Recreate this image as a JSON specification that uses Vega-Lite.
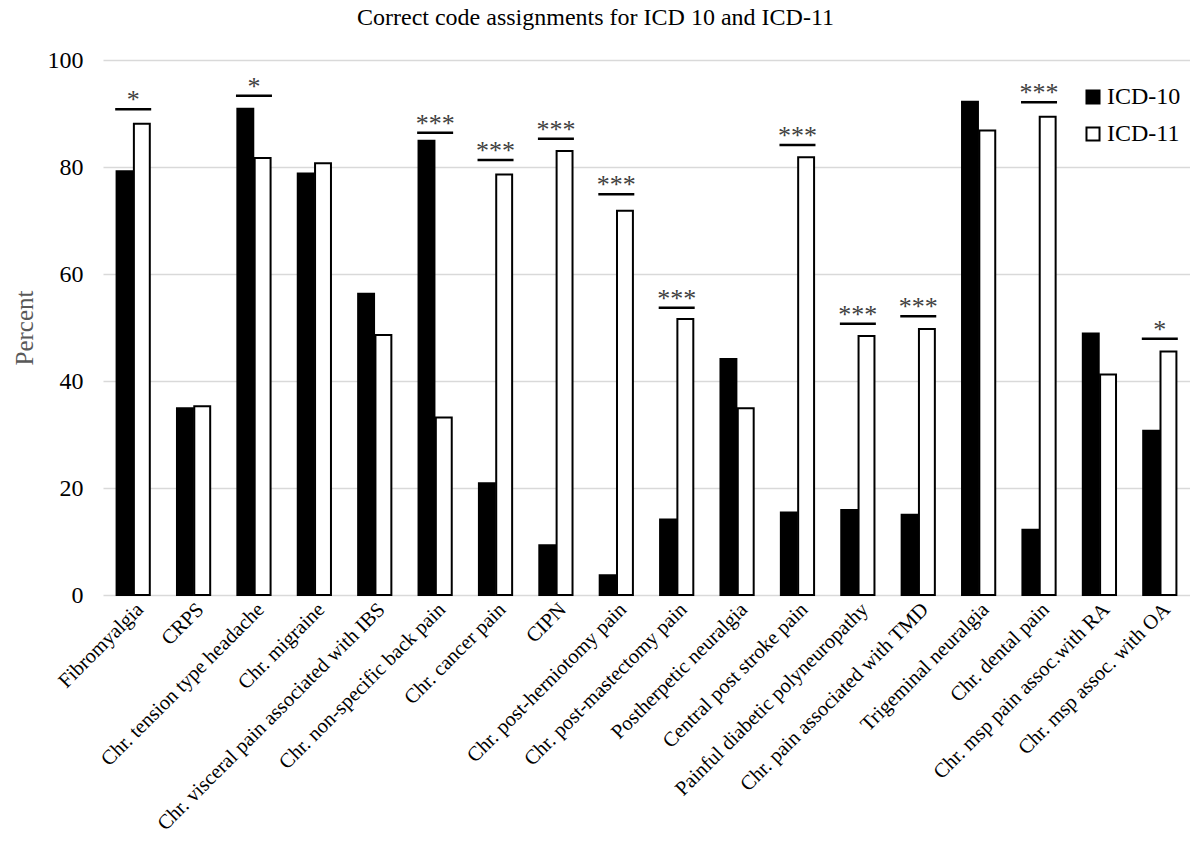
{
  "$schema": "https://vega.github.io/schema/vega-lite/v6.json",
  "autosize": "none",
  "width": 1087,
  "height": 535,
  "padding": {"left": 103, "top": 60, "right": 0, "bottom": 246},
  "background": "white",
  "title": {"text": "Correct code assignments for ICD 10 and ICD-11", "font": "Liberation Serif", "fontSize": 24, "fontWeight": "normal", "color": "#000000", "anchor": "middle", "dx": -51, "offset": 18},
  "config": {"view": {"stroke": null}, "font": "Liberation Serif"},
  "datasets": {
    "bars": [
      {"category": "Fibromyalgia", "series": "ICD-10", "value": 79.2},
      {"category": "Fibromyalgia", "series": "ICD-11", "value": 88.1},
      {"category": "CRPS", "series": "ICD-10", "value": 34.9},
      {"category": "CRPS", "series": "ICD-11", "value": 35.3},
      {"category": "Chr. tension type headache", "series": "ICD-10", "value": 90.9},
      {"category": "Chr. tension type headache", "series": "ICD-11", "value": 81.7},
      {"category": "Chr. migraine", "series": "ICD-10", "value": 78.8},
      {"category": "Chr. migraine", "series": "ICD-11", "value": 80.7},
      {"category": "Chr. visceral pain associated with IBS", "series": "ICD-10", "value": 56.3},
      {"category": "Chr. visceral pain associated with IBS", "series": "ICD-11", "value": 48.6},
      {"category": "Chr. non-specific back pain", "series": "ICD-10", "value": 84.9},
      {"category": "Chr. non-specific back pain", "series": "ICD-11", "value": 33.2},
      {"category": "Chr. cancer pain", "series": "ICD-10", "value": 20.9},
      {"category": "Chr. cancer pain", "series": "ICD-11", "value": 78.6},
      {"category": "CIPN", "series": "ICD-10", "value": 9.3},
      {"category": "CIPN", "series": "ICD-11", "value": 83.0},
      {"category": "Chr. post-herniotomy pain", "series": "ICD-10", "value": 3.7},
      {"category": "Chr. post-herniotomy pain", "series": "ICD-11", "value": 71.8},
      {"category": "Chr. post-mastectomy pain", "series": "ICD-10", "value": 14.1},
      {"category": "Chr. post-mastectomy pain", "series": "ICD-11", "value": 51.6},
      {"category": "Postherpetic neuralgia", "series": "ICD-10", "value": 44.1},
      {"category": "Postherpetic neuralgia", "series": "ICD-11", "value": 34.9},
      {"category": "Central post stroke pain", "series": "ICD-10", "value": 15.4},
      {"category": "Central post stroke pain", "series": "ICD-11", "value": 81.8},
      {"category": "Painful diabetic polyneuropathy", "series": "ICD-10", "value": 15.9},
      {"category": "Painful diabetic polyneuropathy", "series": "ICD-11", "value": 48.4},
      {"category": "Chr. pain associated with TMD", "series": "ICD-10", "value": 15.0},
      {"category": "Chr. pain associated with TMD", "series": "ICD-11", "value": 49.7},
      {"category": "Trigeminal neuralgia", "series": "ICD-10", "value": 92.2},
      {"category": "Trigeminal neuralgia", "series": "ICD-11", "value": 86.8},
      {"category": "Chr. dental pain", "series": "ICD-10", "value": 12.2},
      {"category": "Chr. dental pain", "series": "ICD-11", "value": 89.4},
      {"category": "Chr. msp pain assoc.with RA", "series": "ICD-10", "value": 48.9},
      {"category": "Chr. msp pain assoc.with RA", "series": "ICD-11", "value": 41.2},
      {"category": "Chr. msp assoc. with OA", "series": "ICD-10", "value": 30.7},
      {"category": "Chr. msp assoc. with OA", "series": "ICD-11", "value": 45.5}
    ],
    "sig": [
      {"category": "Fibromyalgia", "level": 90.8, "stars": "*"},
      {"category": "Chr. tension type headache", "level": 93.3, "stars": "*"},
      {"category": "Chr. non-specific back pain", "level": 86.4, "stars": "***"},
      {"category": "Chr. cancer pain", "level": 81.3, "stars": "***"},
      {"category": "CIPN", "level": 85.3, "stars": "***"},
      {"category": "Chr. post-herniotomy pain", "level": 74.9, "stars": "***"},
      {"category": "Chr. post-mastectomy pain", "level": 53.7, "stars": "***"},
      {"category": "Central post stroke pain", "level": 84.1, "stars": "***"},
      {"category": "Painful diabetic polyneuropathy", "level": 50.7, "stars": "***"},
      {"category": "Chr. pain associated with TMD", "level": 52.1, "stars": "***"},
      {"category": "Chr. dental pain", "level": 92.1, "stars": "***"},
      {"category": "Chr. msp assoc. with OA", "level": 47.9, "stars": "*"}
    ]
  },
  "encoding": {
    "x": {
      "field": "category", "type": "nominal", "sort": null,
      "scale": {"paddingInner": 0.45, "paddingOuter": 0.225},
      "axis": {"title": null, "labelAngle": -45, "labelFont": "Liberation Serif", "labelFontSize": 20.5, "labelColor": "#000000", "ticks": false, "domain": false, "labelPadding": 4, "labelLimit": 500}
    }
  },
  "layer": [
    {
      "data": {"name": "bars"},
      "mark": {"type": "bar", "stroke": "#000000", "strokeWidth": 2},
      "encoding": {
        "xOffset": {"field": "series", "type": "nominal", "scale": {"paddingInner": 0.08}},
        "y": {
          "field": "value", "type": "quantitative",
          "scale": {"domain": [0, 100], "nice": false},
          "axis": {"title": "Percent", "titleFont": "Liberation Serif", "titleFontSize": 25, "titleFontWeight": "normal", "titleColor": "#595959", "titlePadding": 10, "values": [0, 20, 40, 60, 80, 100], "labelFont": "Liberation Serif", "labelFontSize": 24, "labelColor": "#000000", "labelPadding": 20, "ticks": false, "domain": false, "gridColor": "#d9d9d9", "gridWidth": 1.5}
        },
        "fill": {
          "field": "series", "type": "nominal",
          "scale": {"domain": ["ICD-10", "ICD-11"], "range": ["#000000", "#ffffff"]},
          "legend": {"title": null, "orient": "none", "legendX": 978, "legendY": 25, "symbolType": "square", "symbolSize": 170, "symbolStrokeColor": "#000000", "symbolStrokeWidth": 2, "labelFont": "Liberation Serif", "labelFontSize": 24, "labelColor": "#000000", "rowPadding": 13, "labelOffset": 2}
        }
      }
    },
    {
      "data": {"name": "sig"},
      "mark": {"type": "tick", "color": "#000000", "size": 36, "thickness": 2.5, "opacity": 1},
      "encoding": {
        "y": {"field": "level", "type": "quantitative"}
      }
    },
    {
      "data": {"name": "sig"},
      "mark": {"type": "text", "font": "Liberation Serif", "fontSize": 26, "fill": "#404040", "baseline": "alphabetic", "dy": -1},
      "encoding": {
        "y": {"field": "level", "type": "quantitative"},
        "text": {"field": "stars"}
      }
    }
  ]
}
